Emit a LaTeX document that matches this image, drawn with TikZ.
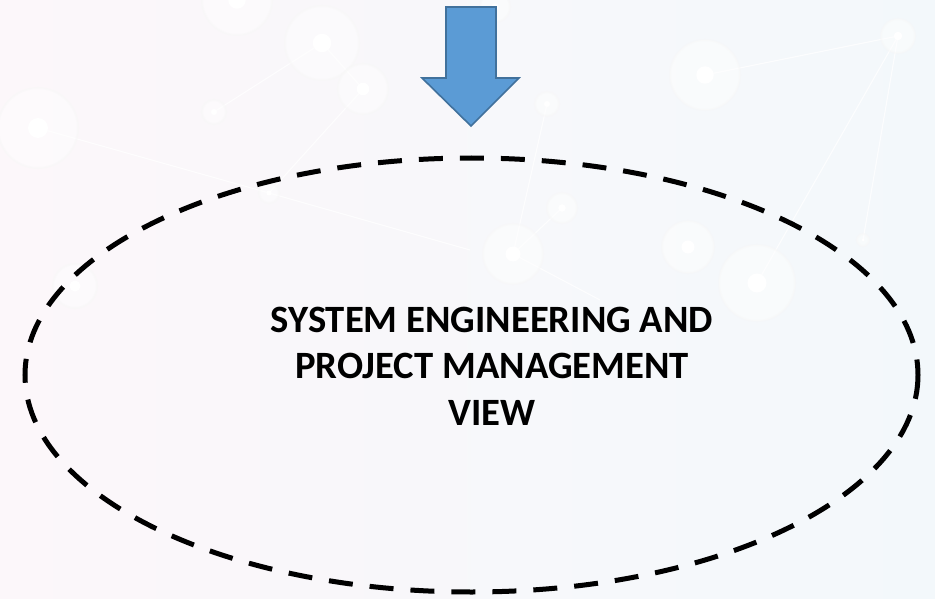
\documentclass[tikz,border=0pt]{standalone}
\usepackage{fontspec}
\newfontfamily\carlito{Carlito}
\definecolor{arrowblue}{HTML}{5B9BD5}
\definecolor{arrowedge}{HTML}{41719C}
\definecolor{bgpink}{HTML}{FCF7FA}
\definecolor{bgblue}{HTML}{F3F8FB}
\tikzset{
  bubble/.style={draw=gray!6, line width=1.5pt, fill=white, opacity=0.45},
  link/.style={draw=white, line width=0.8pt, opacity=0.8},
  dashring/.style={draw=black, line width=3.75pt, dash pattern=on 18pt off 12.75pt},
  blockarrow/.style={fill=arrowblue, draw=arrowedge, line width=1.2pt, line join=miter},
  viewtext/.style={font=\carlito\bfseries\fontsize{29}{35}\selectfont, align=center, text=black}
}
\begin{document}
\begin{tikzpicture}[x=0.75pt, y=-0.75pt]

    % background
    \useasboundingbox (0, 0) rectangle (935, 599);
    \shade[left color=bgpink, right color=bgblue] (0, 0) rectangle (935, 599);

    % faint network
    \draw[link] (38, 128) -- (269, 193) -- (470, 250);
    \draw[link] (214, 112) -- (322, 43) -- (363, 89) -- (269, 193);
    \draw[link] (705, 75) -- (898, 36) -- (757, 283);
    \draw[link] (898, 36) -- (863, 240);
    \draw[link] (547, 104) -- (513, 254) -- (562, 208);
    \draw[link] (513, 254) -- (600, 300);
    \foreach \x/\y/\r in {322/43/37, 363/89/25, 38/128/40, 214/112/12, 269/193/10, 75/286/22,
                          237/0/35, 495/7/15, 705/75/35, 898/36/17, 547/104/12, 562/208/15,
                          513/254/30, 688/247/26, 757/283/38, 863/240/6}
      {
        \fill[bubble] (\x, \y) circle (\r);
        \fill[white] (\x, \y) circle (\r/4);
      }

    % arrow
    \draw[blockarrow] (446, 7) -- (496, 7) -- (496, 78) -- (519, 78)
      -- (471, 126) -- (422, 78) -- (446, 78) -- cycle;

    % dashed view
    \draw[dashring] (471.5, 375) ellipse [x radius=446.5, y radius=217];
    \node[viewtext] (view) at (492, 366) {SYSTEM ENGINEERING AND\\PROJECT MANAGEMENT\\VIEW};

\end{tikzpicture}
\end{document}
